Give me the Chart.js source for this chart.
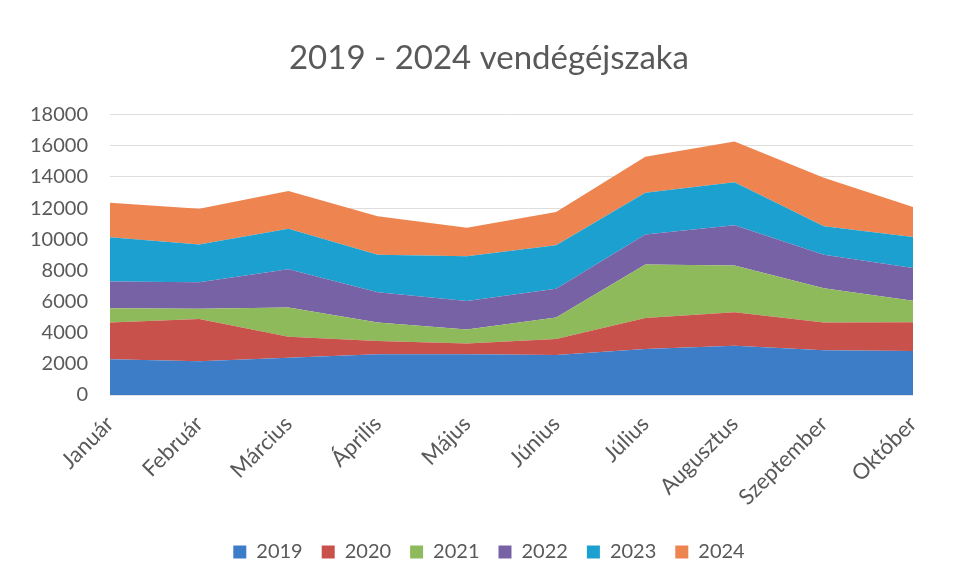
<!DOCTYPE html>
<html>
<head>
<meta charset="utf-8">
<script src="https://cdn.jsdelivr.net/npm/chart.js@4/dist/chart.umd.min.js"></script>
<style>
  html, body { margin: 0; padding: 0; background: #ffffff; }
  #wrap { width: 954px; height: 582px; position: relative; }
</style>
</head>
<body>
<div id="wrap"><canvas id="c" width="954" height="582"></canvas></div>
<script>
const months = ["Január", "Február", "Március", "Április", "Május", "Június", "Július", "Augusztus", "Szeptember", "Október"];
const years = ["2019", "2020", "2021", "2022", "2023", "2024"];
const v2019 = [2300, 2170, 2390, 2620, 2620, 2560, 2960, 3160, 2880, 2820];
const v2020 = [2360, 2710, 1350, 840, 690, 1030, 1990, 2150, 1780, 1850];
const v2021 = [910, 650, 1870, 1200, 900, 1380, 3420, 3010, 2190, 1380];
const v2022 = [1720, 1700, 2470, 1940, 1830, 1850, 1930, 2580, 2150, 2110];
const v2023 = [2840, 2430, 2600, 2410, 2860, 2800, 2690, 2750, 1830, 1980];
const v2024 = [2210, 2300, 2410, 2470, 1830, 2130, 2300, 2620, 3120, 1930];
const yTicks = [0, 2000, 4000, 6000, 8000, 10000, 12000, 14000, 16000, 18000];

const seriesValues = [v2019, v2020, v2021, v2022, v2023, v2024];
const colors = ["#3d7cc7", "#c9514c", "#8fba5b", "#7862a6", "#1ca0cf", "#ee8551"];

const datasets = years.map((y, i) => ({
  label: y,
  data: seriesValues[i],
  backgroundColor: colors[i],
  borderColor: colors[i],
  borderWidth: 0,
  pointRadius: 0,
  pointHoverRadius: 0,
  fill: i === 0 ? 'origin' : '-1',
  tension: 0
}));

const FONT = "Lato, 'Open Sans', sans-serif";
const GREY = "#595959";

// shift title and legend so they are centred like the original
const shiftBoxes = {
  id: 'shiftBoxes',
  beforeDraw(chart) {
    if (chart.titleBlock) chart.titleBlock.left = 65;
    if (chart.legend) chart.legend.left = 65;
  }
};

new Chart(document.getElementById('c'), {
  type: 'line',
  data: { labels: months, datasets: datasets },
  plugins: [shiftBoxes],
  options: {
    responsive: false,
    animation: false,
    devicePixelRatio: 1,
    layout: { padding: { left: 0, right: 41, top: 10, bottom: 10 } },
    plugins: {
      title: {
        display: true,
        text: "2019 - 2024 vendégéjszaka",
        color: GREY,
        font: { family: FONT, size: 33, weight: 'normal' },
        padding: { top: 29, bottom: 36 }
      },
      legend: {
        display: true,
        position: 'bottom',
        labels: {
          color: GREY,
          font: { family: FONT, size: 20 },
          boxWidth: 13,
          boxHeight: 13,
          padding: 19
        }
      },
      tooltip: { enabled: false }
    },
    scales: {
      x: {
        offset: false,
        grid: { display: false, drawTicks: false },
        border: { display: false },
        ticks: {
          color: GREY,
          font: { family: FONT, size: 22 },
          maxRotation: 45,
          minRotation: 45,
          padding: 16,
          autoSkip: false
        },
        afterFit: (s) => { s.height = 128; }
      },
      y: {
        stacked: true,
        min: 0,
        max: 18000,
        afterBuildTicks: (s) => { s.ticks = yTicks.map(v => ({ value: v })); },
        grid: { color: "#dedede", lineWidth: 1, drawTicks: false },
        border: { display: false },
        ticks: {
          color: GREY,
          font: { family: FONT, size: 20 },
          padding: 22,
          callback: (v) => String(v)
        },
        afterFit: (s) => { s.width = 110; }
      }
    }
  }
});
</script>
</body>
</html>
